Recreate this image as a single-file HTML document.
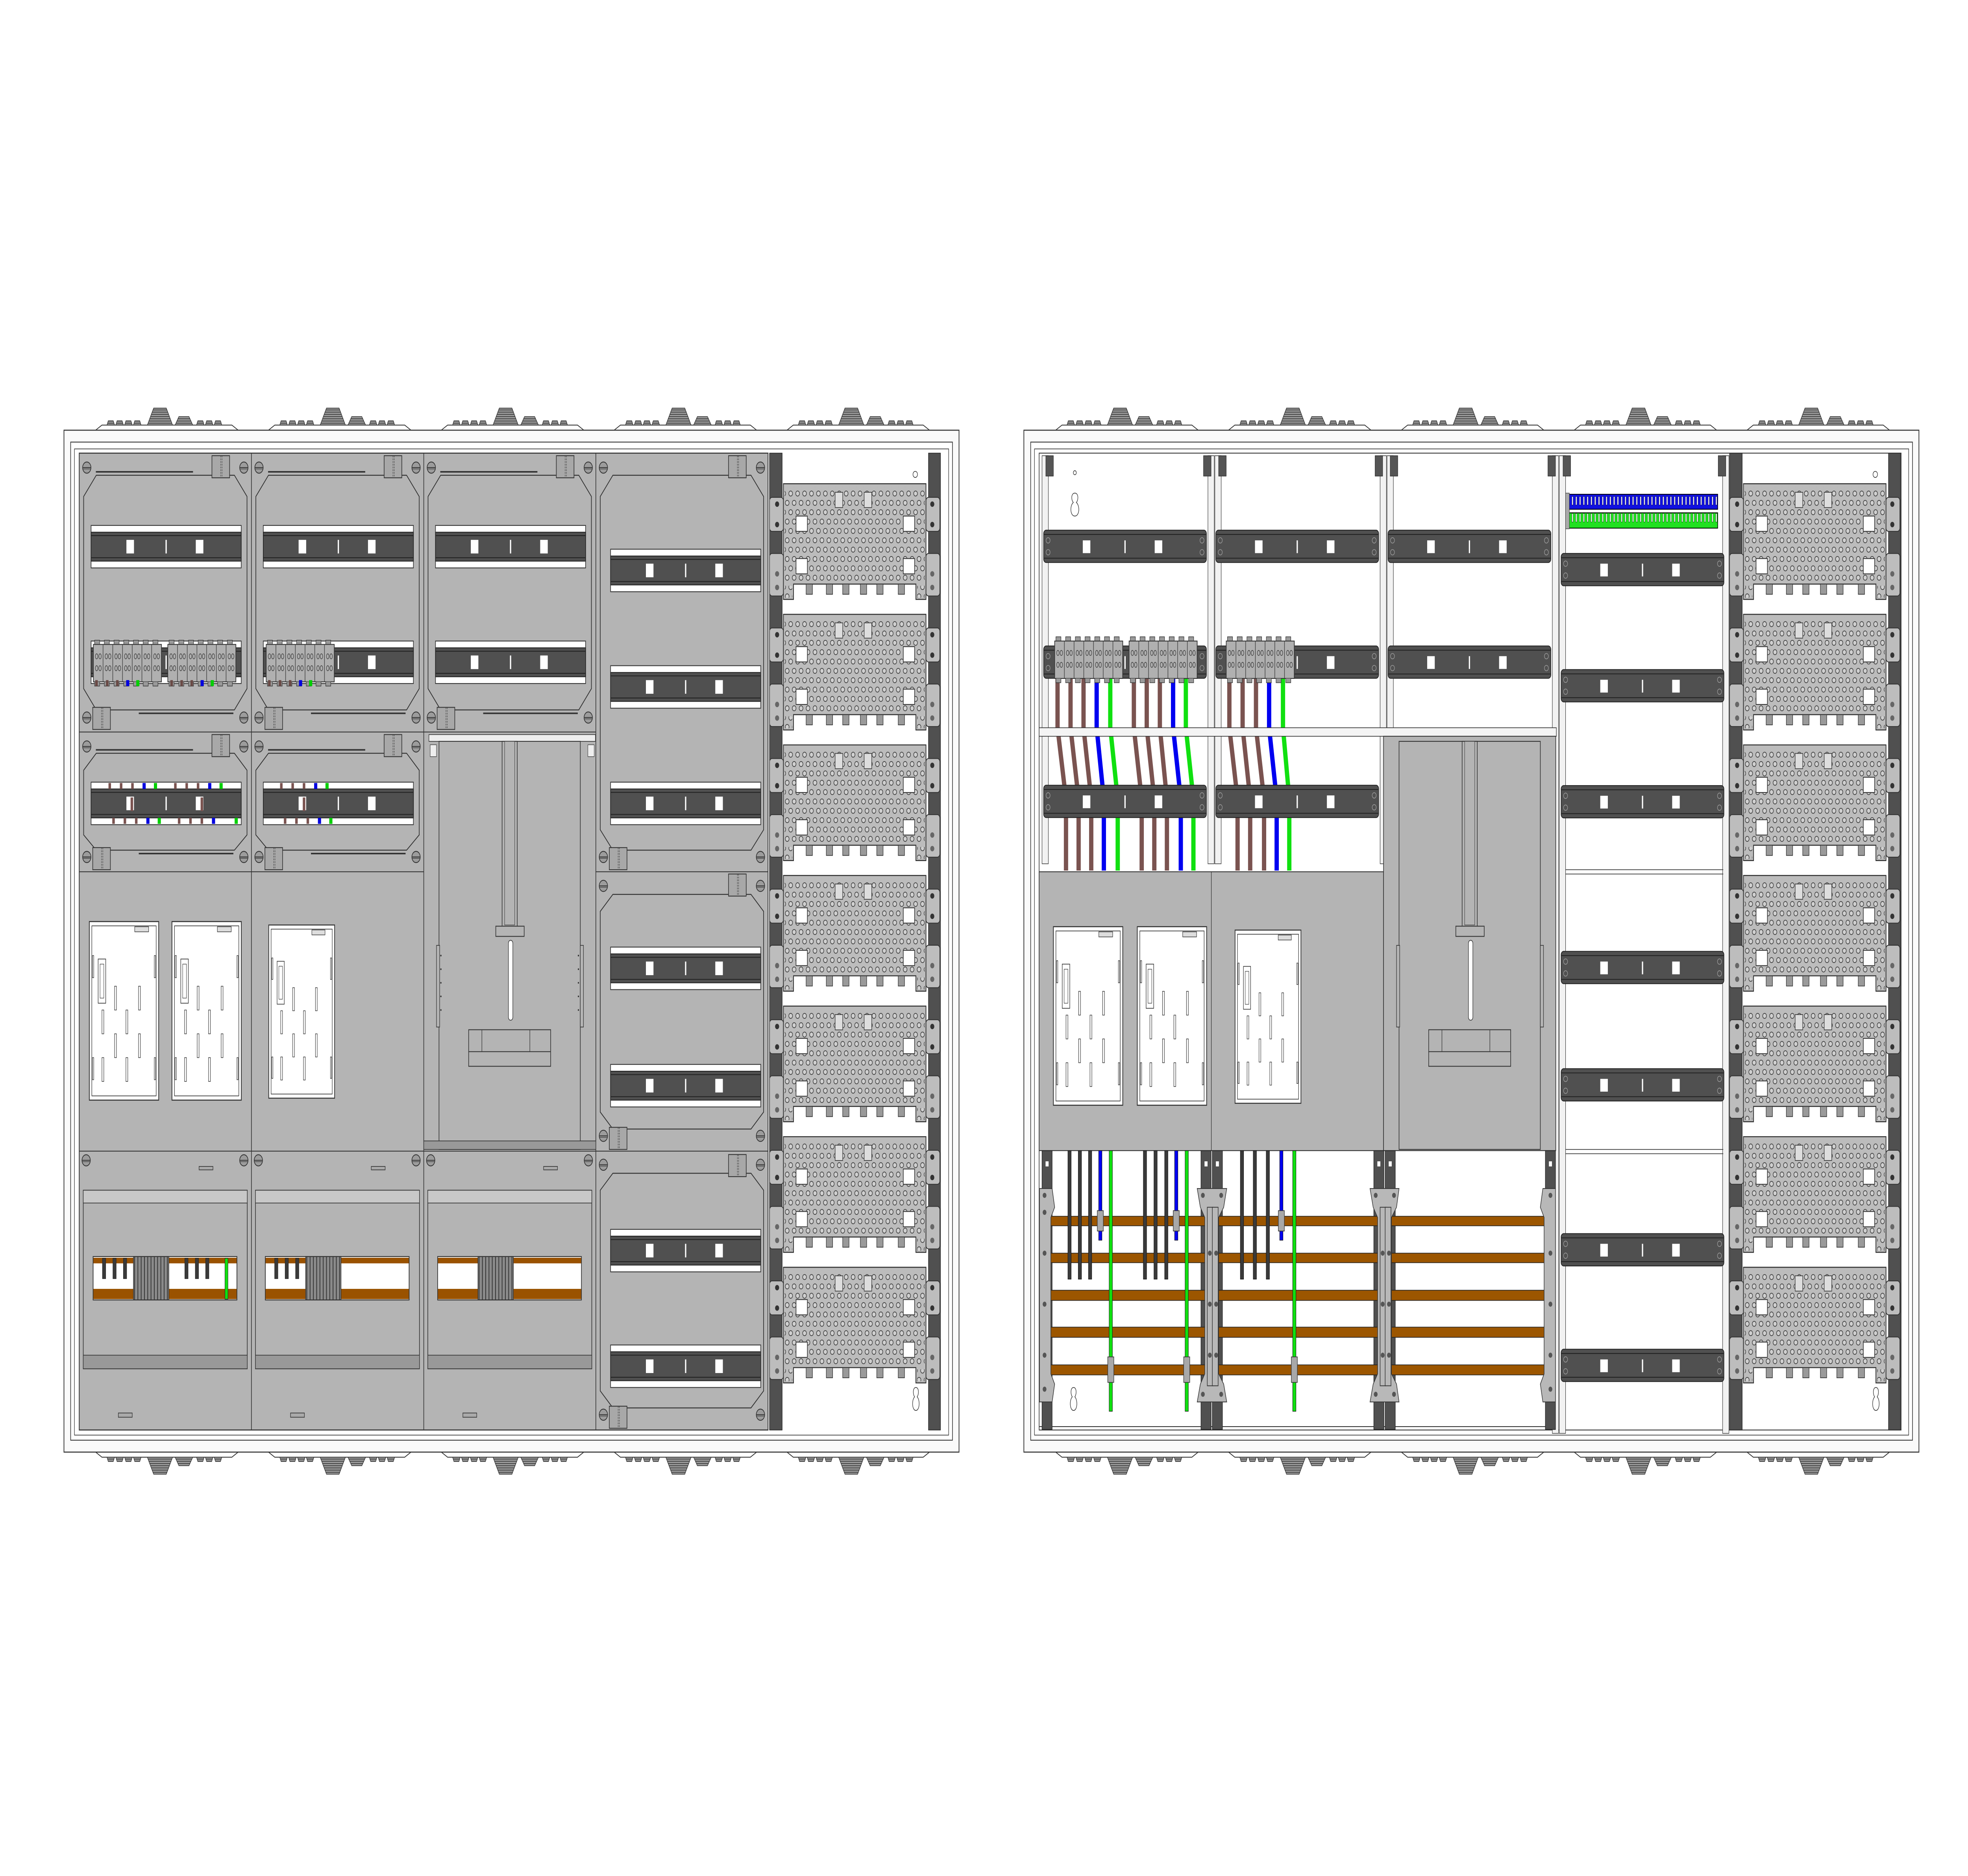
<!DOCTYPE html>
<html><head><meta charset="utf-8"><style>
html,body{margin:0;padding:0;background:#fff;width:100vw;height:100vh;overflow:hidden;}
svg{display:block;width:100vw;height:100vh;}
</style></head><body>
<svg xmlns="http://www.w3.org/2000/svg" xmlns:xlink="http://www.w3.org/1999/xlink" viewBox="0 0 1560 1103.3" preserveAspectRatio="none">
<defs>
<pattern id="holes" patternUnits="userSpaceOnUse" x="3" y="3" width="5.5" height="11">
<circle cx="2.75" cy="2.75" r="1.5" fill="#d0d0d0" stroke="#333" stroke-width=".4"/>
<circle cx="0" cy="8.25" r="1.5" fill="#d0d0d0" stroke="#333" stroke-width=".4"/>
<circle cx="5.5" cy="8.25" r="1.5" fill="#d0d0d0" stroke="#333" stroke-width=".4"/>
</pattern>
<pattern id="gs" patternUnits="userSpaceOnUse" width="4" height="1.3">
<rect width="4" height="1.3" fill="#9a9a9a"/><rect y="0.9" width="4" height="0.4" fill="#333"/>
</pattern>
<pattern id="vg" patternUnits="userSpaceOnUse" width="2.6" height="4">
<rect width="2.6" height="4" fill="#8a8a8a"/><rect x="2" width="0.6" height="4" fill="#333"/>
</pattern>
<pattern id="tbp" patternUnits="userSpaceOnUse" width="7.7" height="22">
<rect width="7.7" height="22" fill="#b0b0b0" stroke="#333" stroke-width=".4"/>
<ellipse cx="2.6" cy="7" rx="1" ry="1.5" fill="none" stroke="#333" stroke-width=".35"/>
<ellipse cx="5.3" cy="7" rx="1" ry="1.5" fill="none" stroke="#333" stroke-width=".35"/>
<ellipse cx="2.6" cy="14" rx="1" ry="1.5" fill="none" stroke="#333" stroke-width=".35"/>
<ellipse cx="5.3" cy="14" rx="1" ry="1.5" fill="none" stroke="#333" stroke-width=".35"/>
</pattern>
<pattern id="tbb" patternUnits="userSpaceOnUse" width="3" height="10">
<rect width="3" height="10" fill="#1010e0"/><rect x="1" y="2" width="1" height="5" fill="#fff" stroke="#003" stroke-width=".2"/>
</pattern>
<pattern id="tbg" patternUnits="userSpaceOnUse" width="3" height="10">
<rect width="3" height="10" fill="#20e020"/><rect x="1" y="2" width="1" height="5" fill="#fff" stroke="#030" stroke-width=".2"/>
</pattern>

<g id="gl">
<path d="M0 0 L5 -3 H108 L113 0" fill="#fff" stroke="#333" stroke-width=".5"/>
<path d="M9 -3 L10 -5.5 H14 L15 -3Z M16 -3 L17 -5.5 H21 L22 -3Z M23 -3 L24 -5.5 H28 L29 -3Z M30 -3 L31 -5.5 H35 L36 -3Z M41 -3 L46 -13 H56 L61 -3Z M63 -3 L66 -8 H74 L77 -3Z M80 -3 L81 -5.5 H85 L86 -3Z M87 -3 L88 -5.5 H92 L93 -3Z M94 -3 L95 -5.5 H99 L100 -3Z" fill="url(#gs)" stroke="#333" stroke-width=".4"/>
</g>

<g id="vp">
<rect x="-11" y="8" width="11" height="20" rx="2" fill="#bdbdbd" stroke="#333" stroke-width=".5"/>
<rect x="-11" y="41" width="11" height="25" rx="2" fill="#bdbdbd" stroke="#333" stroke-width=".5"/>
<rect x="113" y="8" width="11" height="20" rx="2" fill="#bdbdbd" stroke="#333" stroke-width=".5"/>
<rect x="113" y="41" width="11" height="25" rx="2" fill="#bdbdbd" stroke="#333" stroke-width=".5"/>
<circle cx="-5" cy="12" r="1.6" fill="#333"/><circle cx="-5" cy="24" r="1.6" fill="#333"/><circle cx="-5" cy="53" r="1.6" fill="#666"/><circle cx="-5" cy="61" r="1.6" fill="#666"/>
<circle cx="118" cy="12" r="1.6" fill="#333"/><circle cx="118" cy="24" r="1.6" fill="#333"/><circle cx="118" cy="53" r="1.6" fill="#666"/><circle cx="118" cy="61" r="1.6" fill="#666"/>
<path d="M0 0 H113 V68 H105 V59 H48 V59 H8 V68 H0 Z" fill="#bcbcbc" stroke="#333" stroke-width=".6"/>
<rect x="1" y="2" width="111" height="55" fill="url(#holes)"/>
<rect x="1" y="60" width="6" height="7" fill="url(#holes)"/>
<rect x="106" y="60" width="6" height="7" fill="url(#holes)"/>
<rect x="41" y="5" width="6" height="9" fill="#ddd" stroke="#333" stroke-width=".4"/>
<rect x="64" y="5" width="6" height="9" fill="#ddd" stroke="#333" stroke-width=".4"/>
<rect x="10" y="19" width="9" height="9" fill="#fff" stroke="#333" stroke-width=".5"/>
<rect x="95" y="19" width="9" height="9" fill="#fff" stroke="#333" stroke-width=".5"/>
<rect x="10" y="44" width="9" height="9" fill="#fff" stroke="#333" stroke-width=".5"/>
<rect x="95" y="44" width="9" height="9" fill="#fff" stroke="#333" stroke-width=".5"/>
<path d="M18 59 h5 v6 h-5z M34 59 h5 v6 h-5z M47 59 h5 v6 h-5z M61 59 h5 v6 h-5z M74 59 h5 v6 h-5z M91 59 h5 v6 h-5z" fill="#9a9a9a" stroke="#333" stroke-width=".4"/>
</g>

<g id="rl">
<rect x="0" y="0" width="119" height="25" fill="#fff" stroke="#333" stroke-width=".5"/>
<rect x="0" y="4" width="119" height="17" fill="#505050" stroke="#222" stroke-width=".5"/>
<line x1="0" y1="6" x2="119" y2="6" stroke="#222" stroke-width=".5"/>
<line x1="0" y1="19" x2="119" y2="19" stroke="#222" stroke-width=".5"/>
<rect x="28" y="8.5" width="6" height="8" fill="#fff"/>
<rect x="83" y="8.5" width="6" height="8" fill="#fff"/>
<rect x="59" y="8.5" width="1" height="8" fill="#fff"/>
</g>

<g id="rr">
<rect x="0" y="0" width="129" height="19" rx="2" fill="#505050" stroke="#222" stroke-width=".5"/>
<line x1="0" y1="2.5" x2="129" y2="2.5" stroke="#222" stroke-width=".5"/>
<line x1="0" y1="16.5" x2="129" y2="16.5" stroke="#222" stroke-width=".5"/>
<rect x="31" y="6" width="6" height="7.5" fill="#fff"/>
<rect x="88" y="6" width="6" height="7.5" fill="#fff"/>
<rect x="64" y="6" width="1" height="7.5" fill="#fff"/>
<circle cx="3.5" cy="6" r="1.6" fill="none" stroke="#999" stroke-width=".4"/><circle cx="3.5" cy="13" r="1.6" fill="none" stroke="#999" stroke-width=".4"/>
<circle cx="125.5" cy="6" r="1.6" fill="none" stroke="#999" stroke-width=".4"/><circle cx="125.5" cy="13" r="1.6" fill="none" stroke="#999" stroke-width=".4"/>
</g>

<g id="tb">
<path d="M1 0 v-2.5 h4 v2.5 M8.7 0 v-2.5 h4 v2.5 M16.4 0 v-2.5 h4 v2.5 M24.1 0 v-2.5 h4 v2.5 M31.8 0 v-2.5 h4 v2.5 M39.5 0 v-2.5 h4 v2.5 M47.2 0 v-2.5 h4 v2.5" fill="#999" stroke="#333" stroke-width=".35"/>
<rect x="0" y="0" width="54" height="22" fill="url(#tbp)" stroke="#333" stroke-width=".5"/>
<path d="M1 22 v2.5 h4 v-2.5 M8.7 22 v2.5 h4 v-2.5 M16.4 22 v2.5 h4 v-2.5 M24.1 22 v2.5 h4 v-2.5 M31.8 22 v2.5 h4 v-2.5 M39.5 22 v2.5 h4 v-2.5 M47.2 22 v2.5 h4 v-2.5" fill="#999" stroke="#333" stroke-width=".35"/>
</g>

<g id="mw">
<rect x="0" y="0" width="55" height="105" fill="#fff" stroke="#333" stroke-width=".6"/>
<rect x="2" y="2.5" width="51" height="100" fill="#fff" stroke="#333" stroke-width=".4"/>
<rect x="36" y="3" width="11" height="3" fill="#ddd" stroke="#333" stroke-width=".35"/>
<rect x="7" y="22" width="6" height="26" fill="none" stroke="#333" stroke-width=".4"/>
<rect x="8.5" y="25" width="3" height="20" fill="none" stroke="#333" stroke-width=".3"/>
<g fill="#fff" stroke="#333" stroke-width=".35">
<rect x="20" y="38" width="1.5" height="14"/><rect x="39" y="38" width="1.5" height="14"/>
<rect x="10" y="52" width="1.5" height="14"/><rect x="29" y="52" width="1.5" height="14"/>
<rect x="20" y="66" width="1.5" height="14"/><rect x="39" y="66" width="1.5" height="14"/>
<rect x="10" y="80" width="1.5" height="14"/><rect x="29" y="80" width="1.5" height="14"/>
<rect x="2.5" y="20" width="1" height="13"/><rect x="51.5" y="20" width="1" height="13"/>
<rect x="2.5" y="80" width="1" height="13"/><rect x="51.5" y="80" width="1" height="13"/>
</g>
</g>

<g id="sc">
<circle r="3.3" fill="#9c9c9c" stroke="#333" stroke-width=".5"/>
<line x1="-3.2" y1="0" x2="3.2" y2="0" stroke="#333" stroke-width=".5"/>
<line x1="-3.1" y1="0.8" x2="3.1" y2="0.8" stroke="#333" stroke-width=".3"/>
</g>
<g id="hg">
<rect x="0" y="0" width="14" height="13" fill="#a8a8a8" stroke="#333" stroke-width=".5"/>
<line x1="7" y1="0" x2="7" y2="13" stroke="#333" stroke-width=".3" stroke-dasharray="1 .6"/>
<line x1="8" y1="0" x2="8" y2="13" stroke="#333" stroke-width=".3" stroke-dasharray="1 .6"/>
</g>

<g id="bu">
<use xlink:href="#sc" x="5.5" y="5.4"/><use xlink:href="#sc" x="130.5" y="5.4"/>
<rect x="95" y="9" width="11" height="2" fill="#aaa" stroke="#333" stroke-width=".4"/>
<rect x="3.2" y="23" width="130" height="105" fill="#b4b4b4" stroke="#333" stroke-width=".5"/>
<rect x="3.2" y="23" width="130" height="7.5" fill="#c8c8c8" stroke="#333" stroke-width=".4"/>
<rect x="3.2" y="120" width="130" height="8" fill="#999" stroke="#333" stroke-width=".4"/>
<rect x="11" y="62" width="114" height="25.5" fill="#fff" stroke="#333" stroke-width=".5"/>
<rect x="11" y="62.7" width="114" height="3.3" fill="#9a5200"/>
<rect x="11" y="81" width="114" height="6" fill="#9a5200"/>
<rect x="11" y="62" width="114" height="25.5" fill="none" stroke="#333" stroke-width=".5"/>
<rect x="43" y="62" width="28" height="25.5" fill="url(#vg)" stroke="#333" stroke-width=".5"/>
<rect x="31" y="154" width="11" height="2.5" fill="#aaa" stroke="#333" stroke-width=".4"/>
</g>
</defs>

<rect width="1560" height="1103.3" fill="#fff"/>

<!-- ================= LEFT CABINET ================= -->
<use xlink:href="#gl" x="75.8" y="253"/><use xlink:href="#gl" x="212.8" y="253"/><use xlink:href="#gl" x="349.8" y="253"/><use xlink:href="#gl" x="486.8" y="253"/><use xlink:href="#gl" x="623.8" y="253"/>
<g transform="translate(0,1107) scale(1,-1)">
<use xlink:href="#gl" x="75.8" y="253"/><use xlink:href="#gl" x="212.8" y="253"/><use xlink:href="#gl" x="349.8" y="253"/><use xlink:href="#gl" x="486.8" y="253"/><use xlink:href="#gl" x="623.8" y="253"/>
</g>
<rect x="50.7" y="253" width="709.5" height="601" fill="#fafafa" stroke="#333" stroke-width=".6"/>
<rect x="56" y="260" width="699" height="587" fill="#fff" stroke="#333" stroke-width=".5"/>
<rect x="59" y="264" width="693" height="580" fill="none" stroke="#333" stroke-width=".4"/>
<rect x="62.8" y="266.5" width="546" height="574.5" fill="#b4b4b4" stroke="#333" stroke-width=".6"/>

<g stroke="#333" stroke-width=".5">
<line x1="199.3" y1="266.5" x2="199.3" y2="841"/><line x1="335.9" y1="266.5" x2="335.9" y2="841"/><line x1="472.3" y1="266.5" x2="472.3" y2="841"/>
<line x1="62.8" y1="430.5" x2="472.3" y2="430.5"/><line x1="62.8" y1="512.7" x2="335.9" y2="512.7"/><line x1="472.3" y1="512.7" x2="608.8" y2="512.7"/>
<line x1="62.8" y1="677" x2="608.8" y2="677"/>
</g>

<g fill="#b4b4b4" stroke="#333" stroke-width=".55">
<polygon points="76.3,279.5 185.8,279.5 195.8,292 195.8,405 185.8,417.5 76.3,417.5 66.3,405 66.3,292"/>
<polygon points="212.8,279.5 322.3,279.5 332.3,292 332.3,405 322.3,417.5 212.8,417.5 202.8,405 202.8,292"/>
<polygon points="349.3,279.5 458.8,279.5 468.8,292 468.8,405 458.8,417.5 349.3,417.5 339.3,405 339.3,292"/>
<polygon points="76.3,443 185.8,443 195.8,453 195.8,491 185.8,500 76.3,500 66.3,491 66.3,453"/>
<polygon points="212.8,443 322.3,443 332.3,453 332.3,491 322.3,500 212.8,500 202.8,491 202.8,453"/>
<polygon points="485.8,279.5 595.3,279.5 605.3,292 605.3,488 595.3,500 485.8,500 475.8,488 475.8,292"/>
<polygon points="485.8,526 595.3,526 605.3,536 605.3,654 595.3,664 485.8,664 475.8,654 475.8,536"/>
<polygon points="485.8,690 595.3,690 605.3,700 605.3,818 595.3,828 485.8,828 475.8,818 475.8,700"/>
</g>
<g fill="none" stroke="#333" stroke-width=".9">
<line x1="76" y1="277.5" x2="153" y2="277.5"/><line x1="212.5" y1="277.5" x2="289.5" y2="277.5"/><line x1="349" y1="277.5" x2="426" y2="277.5"/>
<line x1="110" y1="419.5" x2="185" y2="419.5"/><line x1="246.5" y1="419.5" x2="321.5" y2="419.5"/><line x1="383" y1="419.5" x2="458" y2="419.5"/>
<line x1="76" y1="441" x2="153" y2="441"/><line x1="212.5" y1="441" x2="289.5" y2="441"/>
<line x1="110" y1="502" x2="185" y2="502"/><line x1="246.5" y1="502" x2="321.5" y2="502"/>
</g>

<g>
<use xlink:href="#sc" x="68.8" y="275"/><use xlink:href="#sc" x="193.3" y="275"/><use xlink:href="#sc" x="68.8" y="422"/><use xlink:href="#sc" x="193.3" y="422"/>
<use xlink:href="#sc" x="205.3" y="275"/><use xlink:href="#sc" x="329.8" y="275"/><use xlink:href="#sc" x="205.3" y="422"/><use xlink:href="#sc" x="329.8" y="422"/>
<use xlink:href="#sc" x="341.9" y="275"/><use xlink:href="#sc" x="466.3" y="275"/><use xlink:href="#sc" x="341.9" y="422"/><use xlink:href="#sc" x="466.3" y="422"/>
<use xlink:href="#sc" x="68.8" y="439"/><use xlink:href="#sc" x="193.3" y="439"/><use xlink:href="#sc" x="68.8" y="504"/><use xlink:href="#sc" x="193.3" y="504"/>
<use xlink:href="#sc" x="205.3" y="439"/><use xlink:href="#sc" x="329.8" y="439"/><use xlink:href="#sc" x="205.3" y="504"/><use xlink:href="#sc" x="329.8" y="504"/>
<use xlink:href="#sc" x="478.3" y="275"/><use xlink:href="#sc" x="602.8" y="275"/><use xlink:href="#sc" x="478.3" y="504"/><use xlink:href="#sc" x="602.8" y="504"/>
<use xlink:href="#sc" x="478.3" y="521"/><use xlink:href="#sc" x="602.8" y="521"/><use xlink:href="#sc" x="478.3" y="668"/><use xlink:href="#sc" x="602.8" y="668"/>
<use xlink:href="#sc" x="478.3" y="685"/><use xlink:href="#sc" x="602.8" y="685"/><use xlink:href="#sc" x="478.3" y="832"/><use xlink:href="#sc" x="602.8" y="832"/>
<use xlink:href="#hg" x="168" y="268"/><use xlink:href="#hg" x="304.5" y="268"/><use xlink:href="#hg" x="441" y="268"/><use xlink:href="#hg" x="577.5" y="268"/>
<use xlink:href="#hg" x="73.5" y="416"/><use xlink:href="#hg" x="210" y="416"/><use xlink:href="#hg" x="346.5" y="416"/>
<use xlink:href="#hg" x="168" y="432"/><use xlink:href="#hg" x="304.5" y="432"/>
<use xlink:href="#hg" x="73.5" y="498.5"/><use xlink:href="#hg" x="210" y="498.5"/><use xlink:href="#hg" x="483" y="498.5"/>
<use xlink:href="#hg" x="577.5" y="514"/><use xlink:href="#hg" x="483" y="663"/><use xlink:href="#hg" x="577.5" y="679"/><use xlink:href="#hg" x="483" y="827"/>
</g>

<use xlink:href="#rl" x="72.2" y="309"/><use xlink:href="#rl" x="208.7" y="309"/><use xlink:href="#rl" x="345.2" y="309"/>
<use xlink:href="#rl" x="72.2" y="377"/><use xlink:href="#rl" x="208.7" y="377"/><use xlink:href="#rl" x="345.2" y="377"/>
<use xlink:href="#rl" x="72.2" y="460"/><use xlink:href="#rl" x="208.7" y="460"/>
<use xlink:href="#rl" x="484" y="323"/><use xlink:href="#rl" x="484" y="391.5"/><use xlink:href="#rl" x="484" y="460"/>
<use xlink:href="#rl" x="484" y="557"/><use xlink:href="#rl" x="484" y="626"/>
<use xlink:href="#rl" x="484" y="723"/><use xlink:href="#rl" x="484" y="791"/>
<use xlink:href="#tb" x="74" y="379"/><use xlink:href="#tb" x="133" y="379"/><use xlink:href="#tb" x="211" y="379"/>
<g fill="#6a4a46">
<rect x="75.5" y="400" width="2" height="3.5"/><rect x="84" y="400" width="2" height="3.5"/><rect x="92" y="400" width="2" height="3.5"/>
<rect x="135" y="400" width="2" height="3.5"/><rect x="143" y="400" width="2" height="3.5"/><rect x="151" y="400" width="2" height="3.5"/>
<rect x="212.5" y="400" width="2" height="3.5"/><rect x="221" y="400" width="2" height="3.5"/><rect x="229" y="400" width="2" height="3.5"/>
</g>
<g fill="#0000e0"><rect x="100" y="400" width="2.5" height="3.5"/><rect x="159" y="400" width="2.5" height="3.5"/><rect x="237" y="400" width="2.5" height="3.5"/></g>
<g fill="#00d000"><rect x="108" y="400" width="2.5" height="3.5"/><rect x="167" y="400" width="2.5" height="3.5"/><rect x="245" y="400" width="2.5" height="3.5"/></g>
<g fill="#7a5350">
<rect x="86" y="460.5" width="2" height="3.5"/><rect x="95" y="460.5" width="2" height="3.5"/><rect x="104" y="460.5" width="2" height="3.5"/>
<rect x="138" y="460.5" width="2" height="3.5"/><rect x="147" y="460.5" width="2" height="3.5"/><rect x="156" y="460.5" width="2" height="3.5"/>
<rect x="222" y="460.5" width="2" height="3.5"/><rect x="231" y="460.5" width="2" height="3.5"/><rect x="240" y="460.5" width="2" height="3.5"/>
<rect x="89" y="481" width="2" height="3.5"/><rect x="98" y="481" width="2" height="3.5"/><rect x="107" y="481" width="2" height="3.5"/>
<rect x="141" y="481" width="2" height="3.5"/><rect x="150" y="481" width="2" height="3.5"/><rect x="159" y="481" width="2" height="3.5"/>
<rect x="225" y="481" width="2" height="3.5"/><rect x="234" y="481" width="2" height="3.5"/><rect x="243" y="481" width="2" height="3.5"/>
<rect x="103.5" y="469" width="2" height="8"/><rect x="159" y="469" width="2" height="8"/><rect x="240" y="469" width="2" height="8"/>
</g>
<g fill="#0000e0"><rect x="113" y="460.5" width="2.5" height="3.5"/><rect x="165" y="460.5" width="2.5" height="3.5"/><rect x="249" y="460.5" width="2.5" height="3.5"/><rect x="116" y="481" width="2.5" height="3.5"/><rect x="168" y="481" width="2.5" height="3.5"/><rect x="252" y="481" width="2.5" height="3.5"/></g>
<g fill="#00d000"><rect x="122" y="460.5" width="2.5" height="3.5"/><rect x="174" y="460.5" width="2.5" height="3.5"/><rect x="258" y="460.5" width="2.5" height="3.5"/><rect x="125" y="481" width="2.5" height="3.5"/><rect x="186" y="481" width="2.5" height="3.5"/><rect x="261" y="481" width="2.5" height="3.5"/></g>

<use xlink:href="#mw" x="70.8" y="542"/><use xlink:href="#mw" x="136.3" y="542"/><use xlink:href="#mw" x="213" y="544" transform="translate(213,544) scale(.95,.97) translate(-213,-544)"/>

<g stroke="#333" fill="#b4b4b4">
<rect x="340" y="432" width="132" height="4" fill="#eee" stroke-width=".4"/>
<rect x="348" y="436" width="112" height="240" stroke-width=".5"/>
<rect x="341" y="438" width="5" height="7" fill="#eee" stroke-width=".3"/><rect x="466" y="438" width="5" height="7" fill="#eee" stroke-width=".3"/>
<rect x="398" y="436" width="12" height="109" stroke-width=".5"/>
<rect x="400" y="436" width="8" height="108" stroke-width=".3"/>
<rect x="393" y="544.7" width="22.5" height="6" stroke-width=".5"/>
<rect x="346" y="556" width="2.5" height="48" stroke-width=".4"/>
<rect x="460" y="556" width="2.5" height="48" stroke-width=".4"/>
<rect x="371.5" y="605.6" width="65" height="21.5" stroke-width=".5"/>
<line x1="371.5" y1="618.5" x2="436.5" y2="618.5" stroke-width=".5"/>
<line x1="382" y1="605.6" x2="382" y2="618.5" stroke-width=".4"/><line x1="420" y1="605.6" x2="420" y2="618.5" stroke-width=".4"/>
<rect x="335.9" y="671" width="136.4" height="5" fill="#999" stroke-width=".4"/>
</g>
<rect x="403" y="553" width="3.5" height="47" rx="1.7" fill="#fff" stroke="#333" stroke-width=".4"/>
<g fill="#333"><circle cx="349.5" cy="562" r=".5"/><circle cx="349.5" cy="570" r=".5"/><circle cx="349.5" cy="578" r=".5"/><circle cx="349.5" cy="586" r=".5"/><circle cx="349.5" cy="594" r=".5"/>
<circle cx="458.5" cy="562" r=".5"/><circle cx="458.5" cy="570" r=".5"/><circle cx="458.5" cy="578" r=".5"/><circle cx="458.5" cy="586" r=".5"/><circle cx="458.5" cy="594" r=".5"/></g>

<use xlink:href="#bu" x="62.8" y="677"/><use xlink:href="#bu" x="199.3" y="677"/><use xlink:href="#bu" x="335.9" y="677"/>
<g fill="#3a3a3a" stroke="#222" stroke-width=".3">
<rect x="81.2" y="740" width="2.6" height="12"/><rect x="89.5" y="740" width="2.6" height="12"/><rect x="97.8" y="740" width="2.6" height="12"/>
<rect x="146.5" y="740" width="2.6" height="12"/><rect x="154.8" y="740" width="2.6" height="12"/><rect x="163" y="740" width="2.6" height="12"/>
<rect x="217.7" y="740" width="2.6" height="12"/><rect x="226" y="740" width="2.6" height="12"/><rect x="234.3" y="740" width="2.6" height="12"/>
</g>
<rect x="178.3" y="740" width="2.4" height="24" fill="#10e010" stroke="#222" stroke-width=".3"/>

<rect x="610" y="266.5" width="10" height="574.5" fill="#505050" stroke="#222" stroke-width=".4"/>
<rect x="736" y="266.5" width="9.5" height="574.5" fill="#505050" stroke="#222" stroke-width=".4"/>
<circle cx="725.5" cy="279" r="1.8" fill="#fff" stroke="#333" stroke-width=".4"/>
<path d="M726 816 c-2.5 0 -2.5 4 -1 5.5 c-2.5 2 -2 8 1 8 c3 0 3.5 -6 1 -8 c1.5 -1.5 1.5 -5.5 -1 -5.5z" fill="#fff" stroke="#333" stroke-width=".4"/>
<use xlink:href="#vp" x="621" y="284.5"/><use xlink:href="#vp" x="621" y="361.3"/><use xlink:href="#vp" x="621" y="438.1"/><use xlink:href="#vp" x="621" y="514.9"/><use xlink:href="#vp" x="621" y="591.7"/><use xlink:href="#vp" x="621" y="668.5"/><use xlink:href="#vp" x="621" y="745.3"/>

<!-- ================= RIGHT CABINET ================= -->
<use xlink:href="#gl" x="836.8" y="253"/><use xlink:href="#gl" x="973.8" y="253"/><use xlink:href="#gl" x="1110.8" y="253"/><use xlink:href="#gl" x="1247.8" y="253"/><use xlink:href="#gl" x="1384.8" y="253"/>
<g transform="translate(0,1107) scale(1,-1)">
<use xlink:href="#gl" x="836.8" y="253"/><use xlink:href="#gl" x="973.8" y="253"/><use xlink:href="#gl" x="1110.8" y="253"/><use xlink:href="#gl" x="1247.8" y="253"/><use xlink:href="#gl" x="1384.8" y="253"/>
</g>
<rect x="811.6" y="253" width="709.5" height="601" fill="#fafafa" stroke="#333" stroke-width=".6"/>
<rect x="817" y="260" width="699" height="587" fill="#fff" stroke="#333" stroke-width=".5"/>
<rect x="820" y="264" width="693" height="580" fill="none" stroke="#333" stroke-width=".4"/>
<rect x="823.7" y="266.5" width="683.3" height="574.5" fill="#fff" stroke="#333" stroke-width=".5"/>
<line x1="823.7" y1="839" x2="1233" y2="839" stroke="#333" stroke-width=".5"/>

<g fill="#f2f2f2" stroke="#333" stroke-width=".35">
<rect x="826" y="268" width="5" height="240"/><rect x="957.5" y="268" width="5" height="240"/><rect x="963" y="268" width="5" height="240"/>
<rect x="1094" y="268" width="5" height="240"/><rect x="1099.5" y="268" width="5" height="240"/>
<rect x="1230.5" y="268" width="5" height="575"/><rect x="1236" y="268" width="5" height="575"/>
<rect x="1365.5" y="268" width="5" height="575"/>
</g>
<g fill="#555" stroke="#222" stroke-width=".3">
<rect x="829" y="268" width="6" height="12"/><rect x="954" y="268" width="6" height="12"/><rect x="966" y="268" width="6" height="12"/>
<rect x="1090" y="268" width="6" height="12"/><rect x="1102" y="268" width="6" height="12"/>
<rect x="1227" y="268" width="6" height="12"/><rect x="1239" y="268" width="6" height="12"/><rect x="1362" y="268" width="6" height="12"/>
</g>
<circle cx="852" cy="278" r="1.2" fill="#fff" stroke="#333" stroke-width=".4"/>
<path d="M852 290 c-3 0 -3 4 -1.2 5.5 c-3 2 -2.5 8 1.2 8 c3.7 0 4.2 -6 1.2 -8 c1.8 -1.5 1.8 -5.5 -1.2 -5.5z" fill="#fff" stroke="#333" stroke-width=".4"/>

<g fill="none" stroke-width="3.4" stroke-linejoin="round">
<g stroke="#7a5350">
<path d="M838.3 397 V428 L845 470 V512"/><path d="M848.6 397 V428 L855 470 V512"/><path d="M858.9 397 V428 L865 470 V512"/>
<path d="M898.8 397 V428 L905 470 V512"/><path d="M909 397 V428 L915 470 V512"/><path d="M919.4 397 V428 L925 470 V512"/>
<path d="M974.5 397 V428 L981 470 V512"/><path d="M985 397 V428 L991 470 V512"/><path d="M995.6 397 V428 L1002 470 V512"/>
</g>
<g stroke="#0000f0"><path d="M869.3 397 V428 L875 470 V512"/><path d="M929.9 397 V428 L936 470 V512"/><path d="M1006 397 V428 L1012 470 V512"/></g>
<g stroke="#10e010"><path d="M880.1 397 V428 L886 470 V512"/><path d="M940 397 V428 L946 470 V512"/><path d="M1017 397 V428 L1022 470 V512"/></g>
</g>

<use xlink:href="#rr" x="827.3" y="311.8"/><use xlink:href="#rr" x="963.8" y="311.8"/><use xlink:href="#rr" x="1100.3" y="311.8"/>
<use xlink:href="#rr" x="827.3" y="379.9"/><use xlink:href="#rr" x="963.8" y="379.9"/><use xlink:href="#rr" x="1100.3" y="379.9"/>
<use xlink:href="#rr" x="827.3" y="461.8"/><use xlink:href="#rr" x="963.8" y="461.8"/>
<use xlink:href="#tb" x="836" y="377"/><use xlink:href="#tb" x="895" y="377"/><use xlink:href="#tb" x="972" y="377"/>
<rect x="823.7" y="428" width="410" height="5" fill="#f4f4f4" stroke="#333" stroke-width=".4"/>

<rect x="823.7" y="512.7" width="273" height="164" fill="#b4b4b4" stroke="#333" stroke-width=".5"/>
<line x1="960.2" y1="512.7" x2="960.2" y2="676.7" stroke="#333" stroke-width=".4"/>
<rect x="1096.7" y="433" width="136.5" height="243.7" fill="#b4b4b4" stroke="#333" stroke-width=".5"/>
<g stroke="#333" fill="#b4b4b4">
<rect x="1109" y="436" width="112" height="240" stroke-width=".5"/>
<rect x="1159" y="436" width="12" height="109" stroke-width=".5"/>
<rect x="1161" y="436" width="8" height="108" stroke-width=".3"/>
<rect x="1154" y="544.7" width="22.5" height="6" stroke-width=".5"/>
<rect x="1107" y="556" width="2.5" height="48" stroke-width=".4"/>
<rect x="1221" y="556" width="2.5" height="48" stroke-width=".4"/>
<rect x="1132.5" y="605.6" width="65" height="21.5" stroke-width=".5"/>
<line x1="1132.5" y1="618.5" x2="1197.5" y2="618.5" stroke-width=".5"/>
<line x1="1143" y1="605.6" x2="1143" y2="618.5" stroke-width=".4"/><line x1="1181" y1="605.6" x2="1181" y2="618.5" stroke-width=".4"/>
</g>
<rect x="1164" y="553" width="3.5" height="47" rx="1.7" fill="#fff" stroke="#333" stroke-width=".4"/>
<use xlink:href="#mw" x="835" y="545"/><use xlink:href="#mw" x="901.5" y="545"/><use xlink:href="#mw" x="979" y="547" transform="translate(979,547) scale(.95,.97) translate(-979,-547)"/>

<g fill="#505050" stroke="#222" stroke-width=".4">
<rect x="826" y="676.7" width="8" height="164"/>
<rect x="952" y="676.7" width="8" height="164"/><rect x="961" y="676.7" width="8" height="164"/>
<rect x="1089" y="676.7" width="8" height="164"/><rect x="1098" y="676.7" width="8" height="164"/>
<rect x="1225" y="676.7" width="8" height="164"/>
</g>
<g fill="#fff">
<rect x="828.8" y="683" width="2.4" height="3"/><rect x="954.8" y="683" width="2.4" height="3"/><rect x="963.8" y="683" width="2.4" height="3"/><rect x="1091.8" y="683" width="2.4" height="3"/><rect x="1100.8" y="683" width="2.4" height="3"/><rect x="1227.8" y="683" width="2.4" height="3"/>
</g>
<g fill="#9c5600" stroke="#222" stroke-width=".4">
<rect x="830.8" y="715.3" width="395.6" height="5.6"/><rect x="830.8" y="737" width="395.6" height="5.6"/><rect x="830.8" y="758.8" width="395.6" height="6"/><rect x="830.8" y="780.5" width="395.6" height="6"/><rect x="830.8" y="802.7" width="395.6" height="5.9"/>
</g>
<g fill="#b8b8b8" stroke="#333" stroke-width=".45">
<path d="M824 699 H834 L836 710 L833 716 V808 L836 814 L834 824.5 H824Z"/>
<path d="M949 699 H972.4 L970 710 L966 716 V808 L970 814 L972.4 824.5 H949 L951.5 814 L955 808 V716 L951.5 710Z"/>
<path d="M1086 699 H1109 L1107 710 L1103 716 V808 L1107 814 L1109 824.5 H1086 L1088.5 814 L1092 808 V716 L1088.5 710Z"/>
<path d="M1233 699 H1223 L1221 710 L1224 716 V808 L1221 814 L1223 824.5 H1233Z"/>
<rect x="957" y="710" width="4.6" height="105"/><rect x="961" y="710" width="4.6" height="105"/>
<rect x="1094" y="710" width="4.6" height="105"/><rect x="1098" y="710" width="4.6" height="105"/>
</g>
<g fill="#555">
<circle cx="828" cy="703" r="1.5"/><circle cx="828" cy="713" r="1.5"/><circle cx="828" cy="737" r="1.5"/><circle cx="828" cy="767" r="1.5"/><circle cx="828" cy="797" r="1.5"/><circle cx="828" cy="817" r="1.5"/>
<circle cx="953.5" cy="703" r="1.5"/><circle cx="968" cy="703" r="1.5"/><circle cx="959" cy="737" r="1.5"/><circle cx="964" cy="737" r="1.5"/><circle cx="959" cy="767" r="1.5"/><circle cx="964" cy="767" r="1.5"/><circle cx="959" cy="797" r="1.5"/><circle cx="964" cy="797" r="1.5"/><circle cx="953.5" cy="820" r="1.5"/><circle cx="968" cy="820" r="1.5"/>
<circle cx="1090.5" cy="703" r="1.5"/><circle cx="1105" cy="703" r="1.5"/><circle cx="1096" cy="737" r="1.5"/><circle cx="1101" cy="737" r="1.5"/><circle cx="1096" cy="767" r="1.5"/><circle cx="1101" cy="767" r="1.5"/><circle cx="1096" cy="797" r="1.5"/><circle cx="1101" cy="797" r="1.5"/><circle cx="1090.5" cy="820" r="1.5"/><circle cx="1105" cy="820" r="1.5"/>
<circle cx="1229" cy="703" r="1.5"/><circle cx="1229" cy="737" r="1.5"/><circle cx="1229" cy="767" r="1.5"/><circle cx="1229" cy="797" r="1.5"/><circle cx="1229" cy="817" r="1.5"/>
</g>
<g fill="#3a3a3a" stroke="#111" stroke-width=".3">
<rect x="846.5" y="676.7" width="2.6" height="75.6"/><rect x="854.7" y="676.7" width="2.6" height="75.6"/><rect x="862.8" y="676.7" width="2.6" height="75.6"/>
<rect x="906.3" y="676.7" width="2.6" height="75.6"/><rect x="914.7" y="676.7" width="2.6" height="75.6"/><rect x="923.2" y="676.7" width="2.6" height="75.6"/>
<rect x="983.2" y="676.7" width="2.6" height="75.6"/><rect x="993.4" y="676.7" width="2.6" height="75.6"/><rect x="1003.7" y="676.7" width="2.6" height="75.6"/>
</g>
<g fill="#0000f0" stroke="#111" stroke-width=".3">
<rect x="870.9" y="676.7" width="2.6" height="52.7"/><rect x="931.1" y="676.7" width="2.6" height="52.7"/><rect x="1014.4" y="676.7" width="2.6" height="52.7"/>
</g>
<g fill="#10e010" stroke="#111" stroke-width=".3">
<rect x="879.2" y="676.7" width="2.6" height="153.3"/><rect x="939.4" y="676.7" width="2.6" height="153.3"/><rect x="1024.7" y="676.7" width="2.6" height="153.3"/>
</g>
<g fill="#a8a8a8" stroke="#333" stroke-width=".4">
<rect x="869.8" y="712" width="4.8" height="12"/><rect x="930" y="712" width="4.8" height="12"/><rect x="1013.3" y="712" width="4.8" height="12"/>
<rect x="878.1" y="798" width="4.8" height="15"/><rect x="938.3" y="798" width="4.8" height="15"/><rect x="1023.6" y="798" width="4.8" height="15"/>
</g>
<path d="M851 816 c-2.5 0 -2.5 4 -1 5.5 c-2.5 2 -2 8 1 8 c3 0 3.5 -6 1 -8 c1.5 -1.5 1.5 -5.5 -1 -5.5z" fill="#fff" stroke="#333" stroke-width=".4"/>

<rect x="1243" y="290.7" width="118.6" height="8.8" fill="url(#tbb)" stroke="#001" stroke-width=".5"/>
<rect x="1243" y="301.6" width="118.6" height="9" fill="url(#tbg)" stroke="#010" stroke-width=".5"/>
<rect x="1241" y="290" width="3" height="21" fill="#aaa" stroke="#333" stroke-width=".3"/>
<use xlink:href="#rr" x="1237.5" y="325.5"/><use xlink:href="#rr" x="1237.5" y="393.8"/><use xlink:href="#rr" x="1237.5" y="462"/>
<use xlink:href="#rr" x="1237.5" y="559.5"/><use xlink:href="#rr" x="1237.5" y="628.5"/><use xlink:href="#rr" x="1237.5" y="725.5"/><use xlink:href="#rr" x="1237.5" y="793.5"/>
<g stroke="#333" stroke-width=".4">
<line x1="1241" y1="511.5" x2="1366" y2="511.5"/><line x1="1241" y1="514" x2="1366" y2="514"/>
<line x1="1241" y1="676" x2="1366" y2="676"/><line x1="1241" y1="678.5" x2="1366" y2="678.5"/>
</g>

<rect x="1371" y="266.5" width="10" height="574.5" fill="#505050" stroke="#222" stroke-width=".4"/>
<rect x="1497" y="266.5" width="9.5" height="574.5" fill="#505050" stroke="#222" stroke-width=".4"/>
<circle cx="1486.5" cy="279" r="1.8" fill="#fff" stroke="#333" stroke-width=".4"/>
<path d="M1487 816 c-2.5 0 -2.5 4 -1 5.5 c-2.5 2 -2 8 1 8 c3 0 3.5 -6 1 -8 c1.5 -1.5 1.5 -5.5 -1 -5.5z" fill="#fff" stroke="#333" stroke-width=".4"/>
<use xlink:href="#vp" x="1382" y="284.5"/><use xlink:href="#vp" x="1382" y="361.3"/><use xlink:href="#vp" x="1382" y="438.1"/><use xlink:href="#vp" x="1382" y="514.9"/><use xlink:href="#vp" x="1382" y="591.7"/><use xlink:href="#vp" x="1382" y="668.5"/><use xlink:href="#vp" x="1382" y="745.3"/>
</svg>
</body></html>
